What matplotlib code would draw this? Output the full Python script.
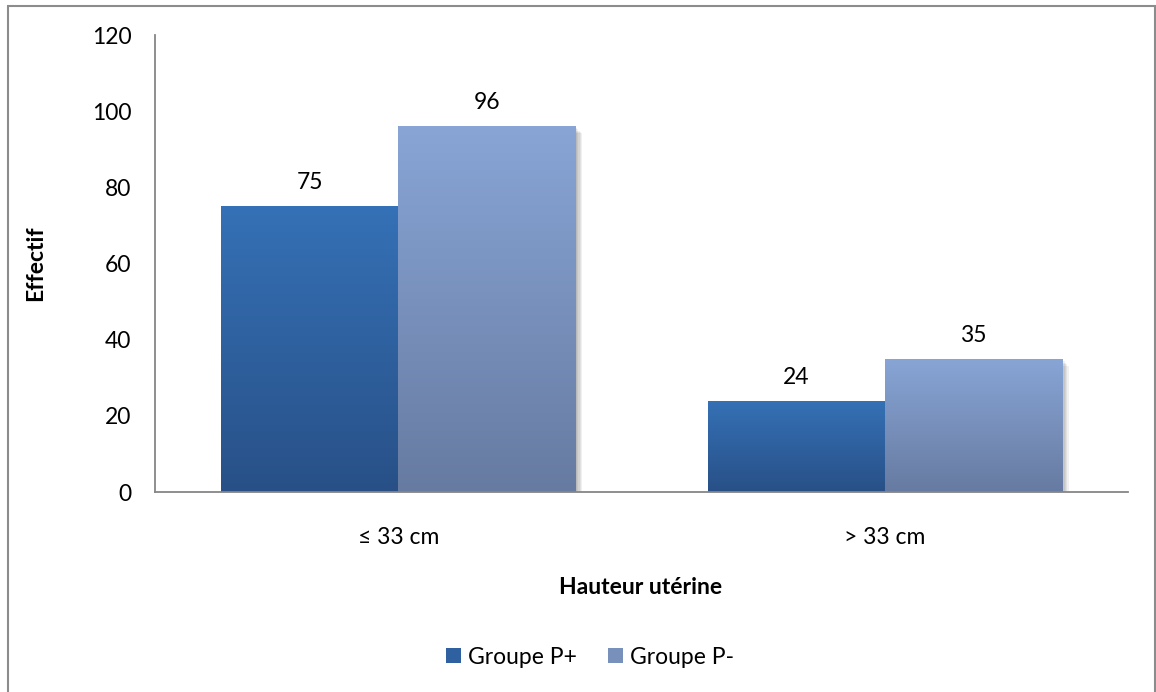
import matplotlib
matplotlib.use("Agg")
import matplotlib.pyplot as plt
import matplotlib.patheffects as pe
from matplotlib.patches import Rectangle
from matplotlib.colors import LinearSegmentedColormap
import numpy as np

# Data
categories = ["≤ 33 cm", "> 33 cm"]
series_names = ["Groupe P+", "Groupe P-"]
groupe_p_plus = [75, 24]
groupe_p_moins = [96, 35]
y_ticks = [0, 20, 40, 60, 80, 100, 120]

# gradient colours (top, bottom) per series
grad_plus = ("#3571B6", "#285087")
grad_moins = ("#88A5D6", "#677BA1")

FS = 16.5
plt.rcParams['font.family'] = ['Lato', 'DejaVu Sans']

fig = plt.figure(figsize=(11.56, 6.92), dpi=100)
ax = fig.add_axes([0.1341, 0.289, 0.8417, 0.6604])

x = np.arange(len(categories))
w = 0.364
shadow = [pe.SimplePatchShadow(offset=(k, -k), shadow_rgbFace="#000000", alpha=0.06)
          for k in (1, 2, 3, 4, 5)] + [pe.Normal()]

def gradient_bars(xpos, values, colors):
    bars = ax.bar(xpos, values, w, facecolor="none", edgecolor="none", zorder=1,
                  path_effects=shadow)
    cmap = LinearSegmentedColormap.from_list("g", [colors[1], colors[0]])
    grad = np.linspace(0, 1, 256).reshape(-1, 1)
    for b in bars:
        x0, y0 = b.get_x(), b.get_y()
        im = ax.imshow(grad, cmap=cmap, origin="lower", aspect="auto",
                       extent=(x0, x0 + b.get_width(), y0, y0 + b.get_height()),
                       zorder=2, interpolation="bilinear")
        im.set_clip_path(b)
        ax.annotate(f"{b.get_height():g}", (x0 + b.get_width() / 2, y0 + b.get_height()),
                    xytext=(0, 17), textcoords="offset points", ha="center",
                    va="center", fontsize=FS, color="black")
    return bars

gradient_bars(x - w / 2, groupe_p_plus, grad_plus)
gradient_bars(x + w / 2, groupe_p_moins, grad_moins)

ax.set_xlim(-0.5, len(categories) - 0.5)
ax.set_ylim(0, 120)
ax.set_yticks(y_ticks)
ax.set_xticks(x)
ax.set_xticklabels(categories)
ax.tick_params(axis="y", length=0, pad=17, labelsize=FS)
ax.tick_params(axis="x", length=0, pad=25, labelsize=FS)

for s in ["top", "right"]:
    ax.spines[s].set_visible(False)
for s in ["left", "bottom"]:
    ax.spines[s].set_color("#868686")
    ax.spines[s].set_linewidth(1.3)
    ax.spines[s].set_zorder(3)

fig.text(36 / 1156, 1 - 263 / 692, "Effectif", rotation=90, ha="center", va="center",
         fontsize=FS, fontweight="bold")
fig.text(641 / 1156, 1 - 587 / 692, "Hauteur utérine", ha="center", va="center",
         fontsize=FS, fontweight="bold")

handles = [Rectangle((0, 0), 1, 1, fc="#2F609F"), Rectangle((0, 0), 1, 1, fc="#7890BC")]
fig.legend(handles, series_names, loc="center", bbox_to_anchor=(590 / 1156, 1 - 657 / 692),
           ncol=2, frameon=False, fontsize=FS, handlelength=0.65, handleheight=0.65,
           handletextpad=0.3, columnspacing=1.4)

fig.patches.append(Rectangle((8 / 1156, -10 / 692), 1147 / 1156, 696 / 692,
                             transform=fig.transFigure, fill=False,
                             ec="#8c8c8c", lw=1.5))

fig.savefig("out.png", dpi=100)
